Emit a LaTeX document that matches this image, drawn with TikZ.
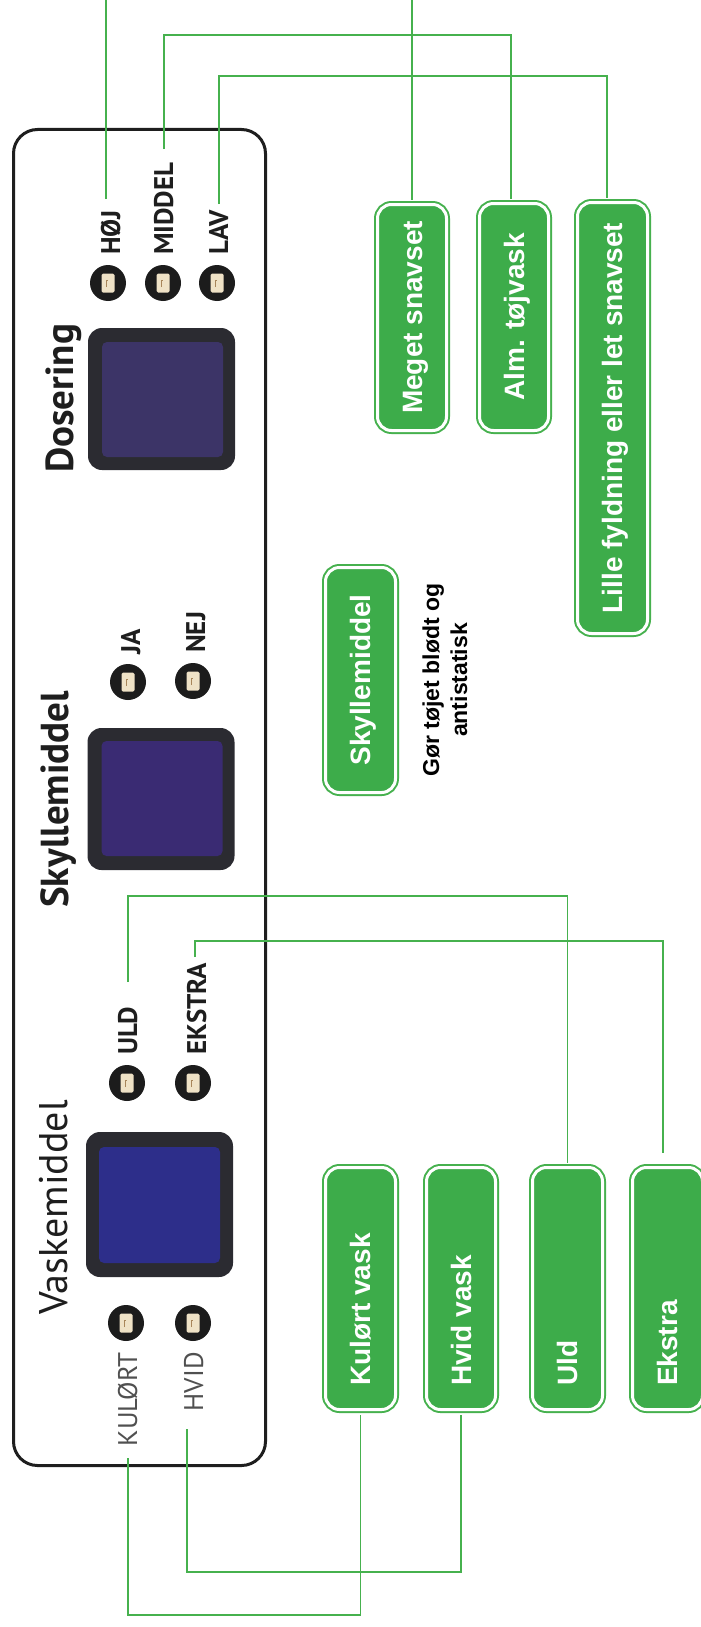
\documentclass[tikz,border=0pt]{standalone}
\usepackage{fontspec}
\setmainfont{Liberation Sans}
\newfontfamily\panelfont{PT Sans}
\usetikzlibrary{calc}
\definecolor{gfill}{HTML}{3DAC4A}
\definecolor{gline}{HTML}{46B14E}
\definecolor{panelblack}{HTML}{1E1E1E}
\definecolor{ledblack}{HTML}{1C1C1C}
\definecolor{ledbeige}{HTML}{EFE2C6}
\definecolor{ledbrown}{HTML}{A8865A}
\definecolor{btnouter}{HTML}{2B2B31}
\definecolor{dosin}{HTML}{3C3467}
\definecolor{skyin}{HTML}{3A2B73}
\definecolor{vasin}{HTML}{2D2E8A}
\definecolor{greytxt}{HTML}{505050}
\begin{document}
\begin{tikzpicture}[x=1pt,y=-1pt,
  panel/.style={rectangle, draw=panelblack, line width=3pt, rounded corners=24pt, minimum width=252pt, minimum height=1336pt, inner sep=0pt},
  btn/.style={rectangle, rounded corners=14pt, fill=btnouter, minimum width=147pt, minimum height=142pt, inner sep=0pt},
  btnin/.style={rectangle, rounded corners=5pt, minimum width=121pt, minimum height=115pt, inner sep=0pt},
  led/.style={circle, fill=ledblack, minimum size=36pt, inner sep=0pt,
    path picture={
      \fill[ledbeige, rounded corners=1.5pt] ($(path picture bounding box.center)+(-6.5pt,-9.5pt)$) rectangle ++(13pt,19pt);
      \draw[ledbrown, line width=0.7pt] ($(path picture bounding box.center)+(-2pt,-4pt)$) -- ++(0pt,7pt) -- ++(2pt,0pt);
    }},
  seclbl/.style={rotate=90, inner sep=0pt, text=panelblack, font=\panelfont\fontsize{39}{39}\selectfont\bfseries},
  ledlbl/.style={rotate=90, inner sep=0pt, text=panelblack, font=\panelfont\fontsize{27}{27}\selectfont\bfseries},
  ledlblg/.style={rotate=90, inner sep=0pt, text=greytxt, font=\panelfont\fontsize{27}{27}\selectfont},
  gbox/.style={rectangle, rounded corners=14pt, fill=gfill, draw=white, line width=3pt, preaction={draw=gline, line width=7pt}, inner sep=0pt, minimum width=70pt},
  glbl/.style={rotate=90, text=white, font=\fontsize{28}{30}\selectfont\bfseries, inner sep=0pt, text height=20pt, text depth=0pt},
  desc/.style={rotate=90, align=center, font=\fontsize{23}{28}\selectfont\bfseries, inner sep=0pt},
  wire/.style={draw=gline, line width=1.4pt}
]
\useasboundingbox (0,0) rectangle (701,1627);

% panel
\node[panel] (panel) at (139.5,797.5) {};

% buttons
\node[btn] (dosb) at (161.5,399) {};
\node[btnin, fill=dosin] (dosi) at (162.5,399.5) {};
\node[btn] (skyb) at (161,799) {};
\node[btnin, fill=skyin] (skyi) at (162,798.5) {};
\node[btn, minimum height=145pt] (vasb) at (159.5,1204.5) {};
\node[btnin, fill=vasin, minimum height=116pt] (vasi) at (159.5,1205) {};

% LEDs
\node[led] (lhoj) at (108,283) {};
\node[led] (lmid) at (163,283) {};
\node[led] (llav) at (217,283) {};
\node[led] (lja) at (128,682) {};
\node[led] (lnej) at (193,681) {};
\node[led] (luld) at (127,1083) {};
\node[led] (lekstra) at (193,1083) {};
\node[led] (lkul) at (126,1323) {};
\node[led] (lhvid) at (193,1323) {};

% section labels
\node[seclbl, anchor=base west] (tdos) at (73,473) {Dosering};
\node[seclbl, anchor=base west] (tsky) at (68,908) {Skyllemiddel};
\node[seclbl, font=\panelfont\fontsize{40}{40}\selectfont, anchor=base west] (tvas) at (67,1315) {Vaskemiddel};

% LED labels
\node[ledlbl, anchor=base west] (thoj) at (120,255) {HØJ};
\node[ledlbl, anchor=base west] (tmid) at (173,255) {MIDDEL};
\node[ledlbl, anchor=base west] (tlav) at (228,255) {LAV};
\node[ledlbl, anchor=base west] (tja) at (140,655) {JA};
\node[ledlbl, anchor=base west] (tnej) at (205,653) {NEJ};
\node[ledlbl, anchor=base west] (tuld) at (137,1055) {ULD};
\node[ledlbl, anchor=base west] (tekstra) at (206,1055) {EKSTRA};
\node[ledlblg, anchor=base east] (tkulort) at (137,1352) {KULØRT};
\node[ledlblg, anchor=base east] (thvid) at (203,1352) {HVID};

% green boxes
\node[gbox, minimum width=69pt, minimum height=226pt] (meget) at (412,317.5) {};
\node[gbox, minimum width=69pt, minimum height=227pt] (alm) at (514,317) {};
\node[gbox, minimum height=431pt] (lille) at (612.5,418) {};
\node[gbox, minimum height=225pt] (skyl) at (360.5,680) {};
\node[gbox, minimum height=242pt] (kulort) at (360.5,1288.5) {};
\node[gbox, minimum width=69pt, minimum height=242pt] (hvid) at (461,1288.5) {};
\node[gbox, minimum height=242pt] (uld) at (567.5,1288.5) {};
\node[gbox, minimum height=242pt] (ekstra) at (667.5,1288.5) {};

\node[glbl] (tmeget) at (meget.center) {Meget snavset};
\node[glbl] (talm) at (alm.center) {Alm. tøjvask};
\node[glbl] (tlille) at (lille.center) {Lille fyldning eller let snavset};
\node[glbl] (tskyl) at (skyl.center) {Skyllemiddel};
\node[glbl, anchor=west] (tkulv) at (360.5,1386) {Kulørt vask};
\node[glbl, anchor=west] (thvidv) at (461,1386) {Hvid vask};
\node[glbl, anchor=west] (tuldv) at (567.5,1386) {Uld};
\node[glbl, anchor=west] (tekstrav) at (667.5,1386) {Ekstra};

\node[desc] (tdesc) at (445,680) {Gør tøjet blødt og\\antistatisk};

% wires
\coordinate (rowhoj) at (0,-20);
\coordinate (rowmid) at (0,35);
\coordinate (rowlav) at (0,76);
\coordinate (rowuld) at (0,896);
\coordinate (rowek) at (0,941);
\coordinate (rowkul) at (0,1615);
\coordinate (rowhvid) at (0,1572);
\coordinate (whoj) at (106,199);
\coordinate (wmid) at (164,149);
\coordinate (wlav) at (219,204);
\coordinate (wuld) at (128,982);
\coordinate (wek) at (195,957);
\coordinate (wkul) at (128,1458);
\coordinate (whvid) at (187,1429);
\coordinate (ekend) at (663,1153);

\draw[wire] (whoj) -- (whoj |- rowhoj) -| ([yshift=3.5pt]meget.north);
\draw[wire] (wmid) -- (wmid |- rowmid) -| ([xshift=-3pt,yshift=3.5pt]alm.north);
\draw[wire] (wlav) -- (wlav |- rowlav) -| ([xshift=-5.5pt,yshift=3.5pt]lille.north);
\draw[wire] (wuld) -- (wuld |- rowuld) -| ([yshift=3.5pt]uld.north);
\draw[wire] (wek) -- (wek |- rowek) -| (ekend);
\draw[wire] (wkul) -- (wkul |- rowkul) -| ([yshift=-3.5pt]kulort.south);
\draw[wire] (whvid) -- (whvid |- rowhvid) -| ([yshift=-3.5pt]hvid.south);
\end{tikzpicture}
\end{document}
